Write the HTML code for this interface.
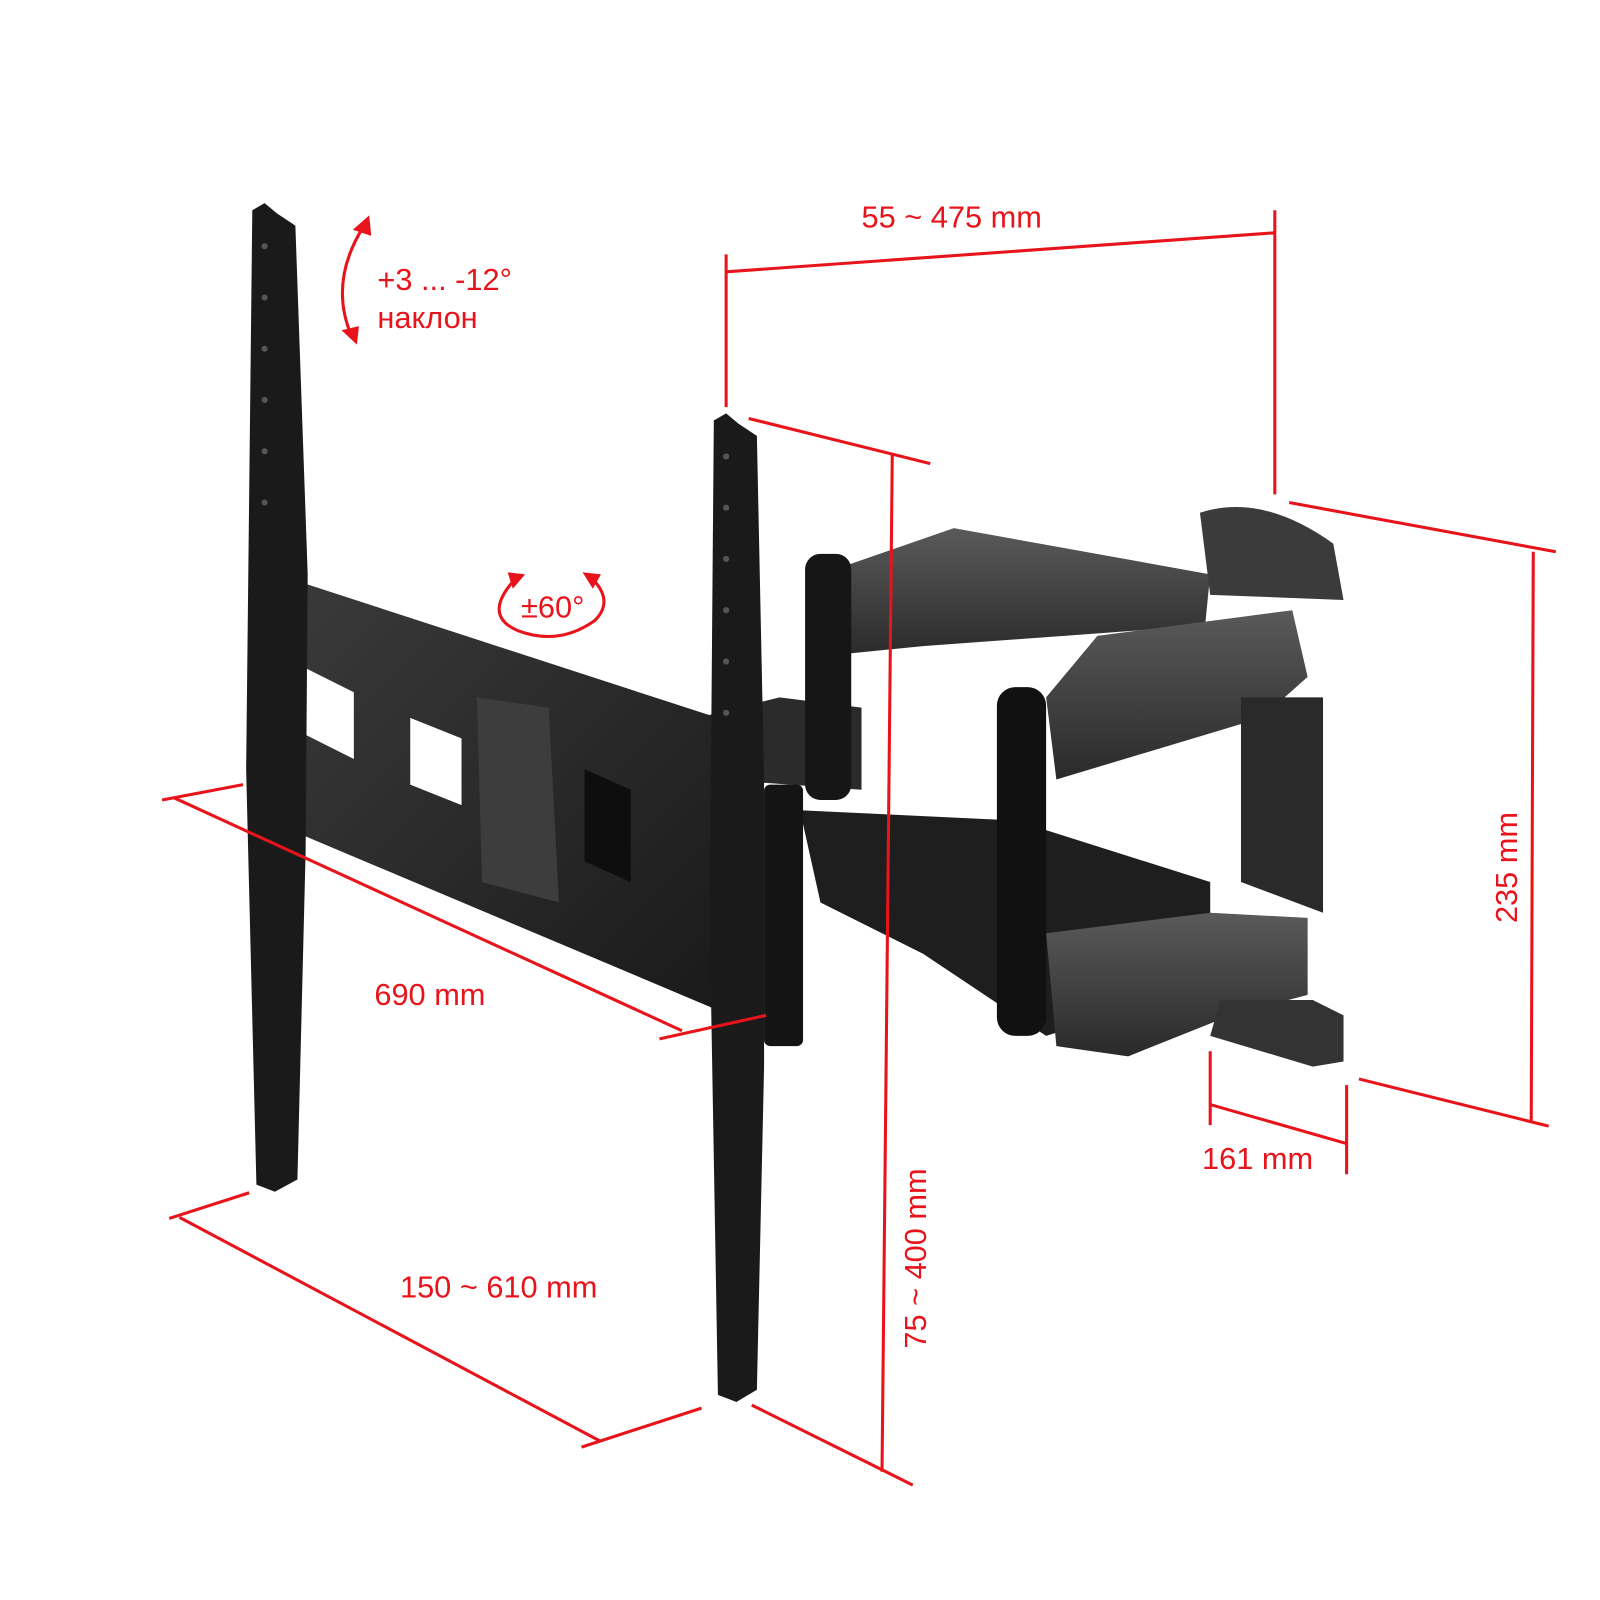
<!DOCTYPE html>
<html><head><meta charset="utf-8"><style>
html,body{margin:0;padding:0;background:#fff;}
svg{display:block}
text{font-family:"Liberation Sans",sans-serif;fill:#e8141b;font-size:30px}
</style></head><body>
<svg width="1600" height="1600" viewBox="0 0 1600 1600" xmlns="http://www.w3.org/2000/svg">
<defs>
<linearGradient id="g1" x1="0" y1="0" x2="1" y2="1"><stop offset="0" stop-color="#3a3a3a"/><stop offset="1" stop-color="#1a1a1a"/></linearGradient>
<linearGradient id="g2" x1="0" y1="0" x2="0" y2="1"><stop offset="0" stop-color="#5a5a5a"/><stop offset="1" stop-color="#2a2a2a"/></linearGradient>
</defs>
<g transform="scale(1.0256)">
<polygon points="800,560 930,515 1180,560 1175,610 900,630 800,640" fill="url(#g2)"/>
<polygon points="640,710 760,680 840,690 840,770 700,760" fill="#2b2b2b"/>
<polygon points="780,790 990,800 1180,860 1180,960 1020,1010 900,930 800,880" fill="#1e1e1e"/>
<polygon points="1020,680 1070,620 1260,595 1275,660 1230,700 1030,760" fill="url(#g2)"/>
<polygon points="1210,680 1290,680 1290,890 1210,860" fill="#2a2a2a"/>
<polygon points="1020,910 1180,890 1275,895 1275,970 1200,990 1100,1030 1030,1020" fill="url(#g2)"/>
<path d="M1170,500 Q1230,480 1300,530 L1310,585 L1180,580 Z" fill="#3b3b3b"/>
<path d="M1190,975 L1280,975 L1310,990 L1310,1035 L1280,1040 L1180,1010 Z" fill="#333"/>
<rect x="785" y="540" width="45" height="240" rx="15" fill="#161616"/>
<rect x="972" y="670" width="48" height="340" rx="18" fill="#111"/>
<rect x="745" y="765" width="38" height="255" rx="6" fill="#141414"/>
<polygon points="285,565 700,700 700,985 285,810" fill="url(#g1)"/>
<polygon points="295,650 345,675 345,740 295,715" fill="#fff"/>
<polygon points="400,700 450,720 450,785 400,765" fill="#fff"/>
<polygon points="465,680 535,690 545,880 470,860" fill="#3d3d3d"/>
<polygon points="570,750 615,770 615,860 570,840" fill="#0e0e0e"/>
<polygon points="246,205 258,198 270,208 288,220 300,560 298,830 290,1150 268,1162 250,1155 240,750" fill="#1a1a1a"/>
<polygon points="696,410 708,403 720,413 738,425 745,760 745,1040 738,1355 718,1367 700,1360 692,900" fill="#1a1a1a"/>
<g fill="#555">
<circle cx="258" cy="240" r="3"/><circle cx="258" cy="290" r="3"/><circle cx="258" cy="340" r="3"/><circle cx="258" cy="390" r="3"/><circle cx="258" cy="440" r="3"/><circle cx="258" cy="490" r="3"/>
<circle cx="708" cy="445" r="3"/><circle cx="708" cy="495" r="3"/><circle cx="708" cy="545" r="3"/><circle cx="708" cy="595" r="3"/><circle cx="708" cy="645" r="3"/><circle cx="708" cy="695" r="3"/>
</g>
<g stroke="#e8141b" stroke-width="3" fill="none">
<line x1="708" y1="265" x2="1243" y2="227"/>
<line x1="708" y1="248" x2="708" y2="397"/>
<line x1="1243" y1="205" x2="1243" y2="482"/>
<line x1="730" y1="408" x2="907" y2="452"/>
<line x1="870" y1="443" x2="860" y2="1435"/>
<line x1="733" y1="1370" x2="890" y2="1448"/>
<line x1="1257" y1="490" x2="1517" y2="538"/>
<line x1="1495" y1="538" x2="1493" y2="1095"/>
<line x1="1325" y1="1052" x2="1510" y2="1098"/>
<line x1="1180" y1="1025" x2="1180" y2="1097"/>
<line x1="1313" y1="1058" x2="1313" y2="1145"/>
<line x1="1180" y1="1077" x2="1313" y2="1115"/>
<line x1="158" y1="780" x2="237" y2="765"/>
<line x1="170" y1="778" x2="665" y2="1005"/>
<line x1="643" y1="1013" x2="747" y2="990"/>
<line x1="165" y1="1188" x2="243" y2="1163"/>
<line x1="175" y1="1187" x2="585" y2="1405"/>
<line x1="567" y1="1411" x2="684" y2="1373"/>
<path d="M355,220 Q320,275 343,328"/>
<path d="M502,565 Q470,600 505,615 Q545,630 580,605 Q600,585 575,562"/>
</g>
<g fill="#e8141b">
<polygon points="360,210 344,224 362,230"/>
<polygon points="348,336 333,322 350,318"/>
<polygon points="495,558 512,560 500,574"/>
<polygon points="568,558 586,560 578,574"/>
</g>
<text x="840" y="222">55 ~ 475 mm</text>
<text x="368" y="283">+3 ... -12°</text>
<text x="368" y="320">наклон</text>
<text x="508" y="602">±60°</text>
<text x="365" y="980">690 mm</text>
<text x="390" y="1265">150 ~ 610 mm</text>
<text x="1172" y="1140">161 mm</text>
<text transform="translate(903,1315) rotate(-90)">75 ~ 400 mm</text>
<text transform="translate(1479,900) rotate(-90)">235 mm</text>
</g>
</svg>
</body></html>
